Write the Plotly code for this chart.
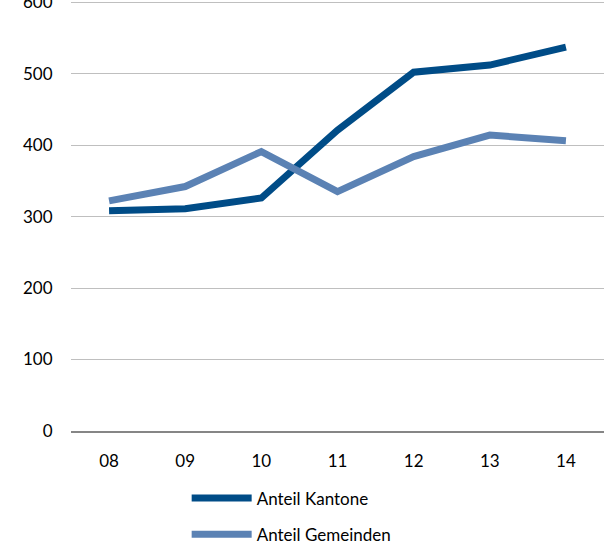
import plotly.graph_objects as go

years = ["08", "09", "10", "11", "12", "13", "14"]
kantone = [308, 311, 326, 421, 502, 512, 537]
gemeinden = [322, 342, 391, 335, 384, 414, 406]
y_ticks = [0, 100, 200, 300, 400, 500, 600]

font_family = "Lato, 'Liberation Sans', sans-serif"

fig = go.Figure()
fig.add_trace(go.Scatter(
    x=years, y=kantone, mode="lines", name="Anteil Kantone",
    line=dict(color="#004C87", width=7), legendgroup="a",
))
fig.add_trace(go.Scatter(
    x=years, y=gemeinden, mode="lines", name="Anteil Gemeinden",
    line=dict(color="#5B82B4", width=7), legendgroup="b",
))

fig.update_layout(
    width=604, height=546,
    margin=dict(l=71, r=0, t=0, b=115, autoexpand=False),
    paper_bgcolor="white", plot_bgcolor="white",
    font=dict(family=font_family, size=17, color="#000000"),
    showlegend=True,
    legend=dict(
        x=0.217, y=-0.115, xanchor="left", yanchor="top",
        orientation="v", traceorder="grouped", tracegroupgap=11,
        font=dict(size=17), itemwidth=60,
    ),
    xaxis=dict(
        type="category", range=[-0.5, 6.5], showgrid=False, showline=True,
        linecolor="#868686", linewidth=1.5, ticks="outside", ticklen=14,
        tickcolor="rgba(0,0,0,0)", zeroline=False, automargin=False,
    ),
    yaxis=dict(
        range=[0, 603], tickvals=y_ticks, ticktext=[str(v) for v in y_ticks],
        showgrid=True, gridcolor="#BFBFBF", ticklabeloverflow="allow",
        gridwidth=1, zeroline=False, showline=False, ticks="outside",
        ticklen=14, tickcolor="rgba(0,0,0,0)", automargin=False,
    ),
)

fig.write_html(
    "out.html",
    config={"displayModeBar": False},
    post_script="document.body.style.margin='0';document.body.style.overflow='hidden';",
)
